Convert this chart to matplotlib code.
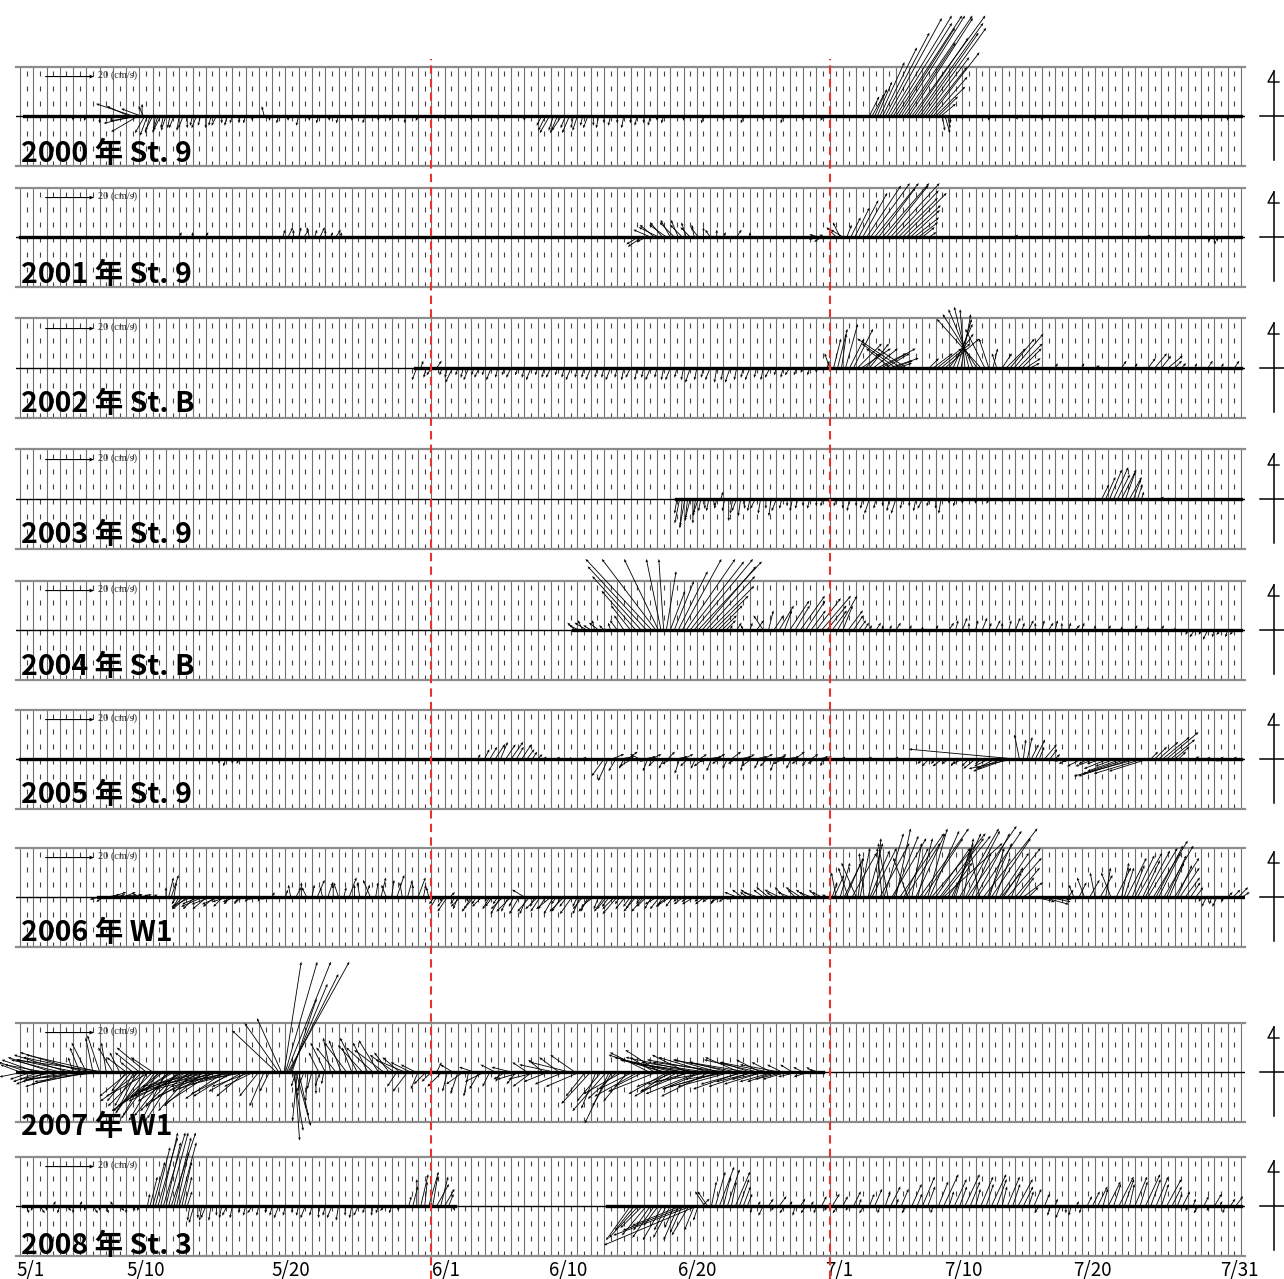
import numpy as np
import matplotlib.pyplot as plt

W, H = 1284, 1279

# ---- data: current vectors (day since 5/1 00:00, u east cm/s, v north cm/s) ----
labels = ["2000 年 St. 9", "2001 年 St. 9", "2002 年 St. B", "2003 年 St. 9", "2004 年 St. B",
          "2005 年 St. 9", "2006 年 W1", "2007 年 W1", "2008 年 St. 3"]

# periods with (small, dense) observations
spans_2000 = [(0.3, 92.0)]
spans_2001 = [(0.0, 92.0)]
spans_2002 = [(29.8, 92.0)]
spans_2003 = [(49.4, 92.0)]
spans_2004 = [(41.7, 92.0)]
spans_2005 = [(0.0, 92.0)]
spans_2006 = [(5.9, 92.2)]
spans_2007 = [(-0.3, 60.5)]
spans_2008 = [(0.25, 32.8), (44.2, 92.0)]

sticks_2000 = [
    (4.0, 0, -2), (5.0, -1, -2), (6.0, 0, -3), (7.0, -1, -2),
    (8.2, -9, 4), (8.5, -15, 5), (8.7, -13, -3), (8.9, -11, -6.5), (9.0, -12, -2), (9.1, -8, 3), (9.2, 0, 5), (9.3, -2, 4),
    (9.4, -4, -7), (9.6, -3, -8), (9.8, -2, -7), (10.0, -3, -6), (10.2, -1, -7), (10.4, -2, -6), (10.6, -3, -6),
    (10.8, -1, -5), (11.0, -2, -6), (11.3, -1, -5), (11.6, -2, -5), (12.0, -1, -6), (12.3, -2, -5), (12.6, 0, -5),
    (13.0, -1, -4), (13.3, -2, -5), (13.6, -1, -4), (14.0, 0, -5), (14.4, -1, -4), (14.8, -2, -4), (15.2, 0, -3),
    (15.6, -1, -4), (16.0, -1, -3), (16.5, 0, -3), (17.0, -1, -3), (17.5, 0, -2), (18.4, -1, 4),
    (18.8, 0, -2), (19.5, -1, -3), (20.2, 0, -2), (21.0, -1, -4), (21.8, 0, -2), (22.5, -1, -3), (23.3, 0, -2),
    (24.0, -1, -3), (25.0, 0, -2), (26.0, -1, -3), (27.0, 0, -2), (28.0, -1, -2), (29.0, 0, -3), (30.0, -1, -2),
    (32.0, 0, -1.5), (34.0, 0, -2), (36.0, 0, -1.5), (38.0, 0, -2),
    (39.3, -2, -4), (39.6, -3, -6), (39.9, -4, -7), (40.2, -2, -6), (40.5, -3, -7), (40.8, -4, -6), (41.1, -2, -5),
    (41.4, -3, -7), (41.7, -1, -5), (42.0, -2, -6), (42.4, -1, -4), (42.8, -2, -5), (43.2, 0, -4), (43.6, -1, -5),
    (44.0, 0, -3), (44.5, -1, -4), (45.0, 0, -3), (45.5, -1, -5), (46.0, 0, -3), (46.5, -1, -4), (47.0, 0, -3),
    (47.5, -1, -4), (48.0, 0, -2), (48.5, -1, -3),
    (50.0, 0, -2), (51.5, -1, -3), (53.0, 0, -2), (54.5, -1, -3), (56.0, 0, -2), (57.5, -1, -3), (59.0, 0, -2),
    (60.5, -1, -2), (62.0, 0, -1),
    (64.0, 4, 8), (64.2, 5, 9), (64.4, 5, 11), (64.6, 6, 14), (64.8, 10, 22), (65.0, 14, 28), (65.2, 18, 34),
    (65.4, 22, 40), (65.6, 25, 41), (65.8, 24, 38), (66.0, 27, 41), (66.2, 23, 36), (66.4, 26, 41), (66.6, 28, 41),
    (66.8, 20, 30), (67.0, 26, 40), (67.2, 30, 41), (67.4, 22, 32), (67.6, 27, 38), (67.8, 24, 34), (68.0, 26, 36),
    (68.2, 18, 24), (68.4, 16, 20), (68.6, 20, 26), (68.8, 14, 16), (69.0, 12, 12), (69.2, 8, 8), (69.4, 6, 5),
    (69.5, 1, -6), (69.7, 2, -7), (69.9, 1, -5), (70.1, 0, -3),
    (71, 0, -1.5), (73, 0, -2), (75, 1, -1.5), (77, 0, -2), (79, 0, -1.5), (81, 0, -2), (83, 0, -1.5),
    (85, 0, -2), (87, 0, -1.5), (89, 0, -2), (91, 0, -2),
]

sticks_2001 = [
    (12, 1, 2), (13, 0, 2), (14, 1, 2),
    (19.8, 1, 3), (20.2, 2, 4), (20.6, 0, 3), (21.0, 1, 4), (21.4, 2, 3), (21.8, -1, 4), (22.2, 1, 3), (22.6, 2, 4),
    (23.0, 0, 3), (23.4, 1, 2), (23.8, 2, 3), (24.2, 0, 2),
    (46.6, -5, -3), (46.9, -6, -4), (47.2, -4, -2), (47.5, -7, 3), (47.8, -6, 5), (48.1, -8, 4), (48.4, -5, 6),
    (48.7, -7, 5), (49.0, -4, 7), (49.3, -6, 6), (49.6, -3, 7), (49.9, -5, 5), (50.2, -2, 6), (50.5, -4, 4),
    (50.8, -1, 5), (51.1, -3, 4), (51.5, 0, 4), (52.0, -2, 3), (52.5, 0, 3), (53, 1, 2), (54, 2, 3), (55, 0, 2),
    (60.0, -3, -1), (60.2, -4, 1), (60.4, -3, -2), (60.6, -2, 1),
    (61.5, -4, 4), (61.8, -3, 6), (62.0, -5, 3), (62.3, 2, 5), (62.6, 4, 8), (62.9, 6, 12), (63.2, 8, 15),
    (63.5, 10, 18), (63.8, 14, 21), (64.1, 16, 22), (64.4, 18, 22), (64.7, 15, 20), (65.0, 19, 22), (65.3, 17, 21),
    (65.6, 20, 22), (65.9, 18, 19), (66.2, 16, 16), (66.5, 18, 18), (66.8, 14, 13), (67.1, 12, 11), (67.4, 10, 8),
    (67.7, 8, 6), (68.0, 5, 4), (68.5, 3, 2),
    (70, 0, -1), (75, 1, 1), (80, 0, -1), (85, 1, 1), (89.6, 0, -2), (89.9, 1, -3), (90.2, 0, -2),
]

sticks_2002 = [
    (29.9, -2, -5), (30.2, 1, 3), (30.6, -1, -4), (31.0, -2, -3), (31.4, 2, 3), (31.8, -1, -3), (32.2, -1, -4),
    (32.6, -3, -6), (33.0, -1, -3), (33.4, -1, -4), (33.8, -2, -5), (34.2, -1, -3), (34.6, -2, -4), (35.0, -1, -3),
    (35.5, -2, -5), (36.0, -1, -4), (36.5, -1, -3), (37.0, -2, -4), (37.5, -1, -3), (38.0, -1, -4), (38.5, -2, -5),
    (39.0, -1, -3), (39.5, -1, -4), (40.0, -2, -4), (40.5, -1, -3), (41.0, -1, -4), (41.5, -2, -5), (42.0, -1, -4),
    (42.5, -1, -4), (43.0, -2, -5), (43.5, -1, -4), (44.0, -1, -4), (44.5, -2, -5), (45.0, -1, -4), (45.5, -1, -5),
    (46.0, -2, -4), (46.5, -1, -5), (47.0, -1, -4), (47.5, -2, -5), (48.0, -1, -4), (48.5, -1, -5), (49.0, -2, -5),
    (49.5, -1, -4), (50.0, -1, -5), (50.5, -2, -6), (51.0, -1, -5), (51.5, -1, -4), (52.0, -2, -5), (52.5, -1, -6),
    (53.0, -1, -5), (53.5, -2, -6), (54.0, -1, -5), (54.5, -1, -4), (55.0, -2, -5), (55.5, -1, -4), (56.0, -1, -5),
    (56.5, -2, -4), (57.0, -1, -3), (57.5, -1, -4), (58.0, -2, -3), (58.5, -1, -3), (59.0, -1, -2), (59.5, -1, -3),
    (60.0, 0, -2), (60.5, 0, -1),
    (60.8, 1, 3), (61.0, -2, 6), (61.3, 3, 12), (61.6, 4, 16), (61.9, 2, 14), (62.2, 5, 18), (62.5, 6, 12),
    (62.8, 8, 16), (63.1, 10, 10), (63.4, 12, 8), (63.7, 6, 6), (64.0, 8, 10), (64.3, 10, 8), (64.6, 12, 6),
    (64.9, 14, 8), (65.2, 10, 6), (65.5, 12, 4), (65.6, -10, 8), (65.8, 8, 3), (66.0, -14, 10), (66.1, 6, 2),
    (66.4, -18, 12), (66.8, -12, 8),
    (68.5, 4, 4), (68.8, 8, 6), (69.1, 10, 8), (69.4, 12, 10), (69.7, 14, 12), (70.0, 10, 14), (70.3, 8, 18),
    (70.6, 6, 20), (70.9, 4, 22), (71.2, -2, 24), (71.5, -6, 25), (71.8, -10, 24), (72.1, -14, 22), (72.4, -18, 20),
    (72.7, -8, 16), (73.0, -4, 12), (73.3, 2, 8), (73.6, -2, 6), (74.0, 4, 6), (74.3, 8, 8), (74.6, 10, 12),
    (74.9, 12, 14), (75.2, 10, 10), (75.5, 8, 8), (75.8, 6, 4), (76.1, 4, 2),
    (77, 0, -1), (78, 1, 2), (79, 0, -1), (80, 1, 2), (81, 2, 1), (82, 0, -1), (83, 2, 3), (84, 1, 2),
    (85.0, 3, 4), (85.5, 5, 6), (86.0, 4, 5), (86.5, 6, 5), (87.0, 3, 3), (87.5, 2, 2), (88.5, 1, 2),
    (89.5, 2, 3), (90.5, 1, 2), (91.5, 2, 3),
]

sticks_2003 = [
    (49.5, -1, -6), (49.7, -2, -10), (49.9, -1, -12), (50.1, -2, -11), (50.3, -1, -9), (50.5, -2, -8), (50.7, 0, -10),
    (50.9, -1, -7), (51.1, -2, -6), (51.3, -1, -5), (51.6, 0, -4), (51.9, -1, -5), (52.2, 1, -3), (52.5, -1, -4),
    (52.8, 1, 3), (53.1, -1, -5), (53.4, 0, -9), (53.7, -1, -6), (54.0, -2, -5), (54.3, -1, -7), (54.6, 0, -4),
    (55.0, -1, -5), (55.4, -2, -4), (55.8, -1, -6), (56.2, 0, -4), (56.6, -1, -7), (57.0, -2, -5), (57.4, -1, -4),
    (57.8, 0, -3), (58.2, -1, -5), (58.6, -1, -4), (59.0, 0, -3), (59.5, -1, -4), (60.0, 0, -3), (60.5, -1, -3),
    (61.0, 0, -2), (61.5, -1, -3), (62.0, 0, -4), (62.5, -1, -5), (63.0, 0, -3), (63.5, -1, -4), (64.0, -2, -6),
    (64.5, -1, -4), (65.0, 0, -3), (65.5, -1, -5), (66.0, -2, -6), (66.5, -1, -4), (67.0, 0, -3), (67.5, -1, -5),
    (68.0, -2, -4), (68.5, -1, -3), (69.0, 0, -4), (69.4, -1, -6), (70.0, 0, -2), (70.5, -1, -3), (71.0, 0, -2),
    (72, 0, -2), (73, -1, -2), (74, 0, -1.5), (75, 0, -1), (77, 0, -1), (79, 0, -1), (81, 0, -1),
    (81.5, 3, 6), (81.8, 4, 9), (82.1, 5, 12), (82.4, 6, 13), (82.7, 5, 10), (83.0, 6, 12), (83.3, 4, 11),
    (83.6, 5, 9), (83.9, 3, 8), (84.2, 2, 6), (84.5, 1, 3),
    (85, 0, -1), (86, 1, 1), (87, 0, -1), (88, 1, -1), (89, 0, -1), (90, 1, -1), (91, 0, -1),
]

sticks_2004 = [
    (41.8, -3, 3), (42.1, -4, 2), (42.4, -2, 4), (42.7, -5, 3), (43.0, -3, 2), (43.3, -1, 4), (43.6, -4, 3),
    (44.0, -2, 2), (44.5, -1, 3), (45.0, -3, 4),
    (45.5, -4, 6), (46.0, -8, 10), (46.4, -14, 16), (46.8, -20, 22), (47.2, -24, 26), (47.6, -27, 29),
    (47.9, -22, 29), (48.1, -14, 29), (48.3, -6, 29), (48.5, -2, 29), (48.7, 4, 24), (49.0, 6, 16), (49.3, 8, 20),
    (49.6, 12, 24), (49.9, 16, 29), (50.2, 20, 29), (50.5, 22, 28), (50.8, 24, 29), (51.1, 26, 28), (51.4, 22, 26),
    (51.7, 20, 22), (52.0, 18, 18), (52.3, 14, 14), (52.6, 10, 10), (52.9, 6, 6), (53.2, 4, 4),
    (53.5, 1, 2), (54.0, 2, 3), (54.5, -1, 2), (55.0, 1, 3),
    (55.5, 3, 4), (56.0, -4, 6), (56.4, 2, 8), (56.8, 4, 6), (57.2, 6, 10), (57.6, 3, 8), (58.0, 8, 12),
    (58.4, 6, 10), (58.8, 10, 14), (59.2, 8, 12), (59.6, 6, 8), (60.0, 10, 13), (60.4, 12, 14), (60.8, 8, 10),
    (61.2, 6, 8), (61.6, 8, 14), (62.0, 4, 10), (62.4, 6, 8), (62.8, 4, 6), (63.2, 3, 4), (63.6, 2, 3),
    (64.0, 1, 2), (64.5, 2, 3), (65.0, 0, 2), (65.5, 1, 2), (66.0, 2, 3), (67.0, 1, 2), (68.0, 0, 1.5),
    (69.0, 1, 2), (70.0, 2, 3), (70.5, 1, 4), (71.0, 2, 5), (71.5, 0, 3), (72.0, 1, 4), (72.5, 2, 5),
    (73.0, 1, 3), (73.5, 2, 4), (74.0, 0, 3), (74.5, 1, 4), (75.0, 2, 5), (75.5, 1, 3), (76.0, 2, 4),
    (76.5, 0, 3), (77.0, 1, 4), (77.5, 2, 3), (78.0, 1, 4), (78.5, 0, 3), (79.0, 1, 3), (79.5, 2, 2),
    (80.0, 1, 3), (81, 0, 2), (82, 1, 2), (83, 0, 1.5), (84, 1, 2), (85, 0, 1.5), (86, 1, 2), (87, 0, 1),
    (88.0, -1, -2), (88.5, -2, -3), (89.0, -1, -2), (89.5, -2, -4), (90.0, -1, -3), (90.5, -2, -2),
    (91.0, -1, -3), (91.5, -2, -2),
]

sticks_2005 = [
    (15.0, 0, -2), (15.5, -1, -3), (16.0, 0, -2), (16.5, -1, -2),
    (34.5, 1, 2), (35.0, 2, 4), (35.4, 3, 5), (35.8, 4, 6), (36.2, 3, 7), (36.6, 4, 6), (37.0, 5, 7),
    (37.4, 3, 5), (37.8, 4, 6), (38.2, 3, 4), (38.6, 2, 3), (39.0, 2, 2), (39.5, 1, 1),
    (40.5, 1, 1), (41.5, 0, 1), (42.5, 1, 1),
    (44.0, -5, -7), (44.3, -4, -9), (44.6, 5, 2), (44.9, -3, -5), (45.2, 6, 1), (45.5, -2, -4), (45.8, 4, 3),
    (46.1, -5, -3), (46.4, 3, -1), (46.7, -4, 2), (47.0, 5, 1), (47.3, -2, -5), (47.6, 4, 2), (47.9, -3, -3),
    (48.2, 6, 0), (48.5, -2, -4), (48.8, 3, 3), (49.1, -4, -2), (49.4, 5, 1), (49.7, -2, -6), (50.0, 4, 2),
    (50.3, -3, -3), (50.6, 5, -1), (50.9, -2, -4), (51.2, 3, 2), (51.5, -4, -3), (51.8, 6, 1), (52.1, -2, -5),
    (52.4, 4, 2), (52.7, -3, -2), (53.0, 5, 0), (53.3, -2, -4), (53.6, 4, 3), (53.9, -3, -2), (54.2, 5, 1),
    (54.5, -1, -5), (54.8, 3, 2), (55.1, -4, -3), (55.4, 5, 1), (55.7, -2, -4), (56.0, 4, 2), (56.3, -3, -3),
    (56.6, 6, 1), (56.9, -2, -5), (57.2, 3, 2), (57.5, -4, -2), (57.8, 5, 1), (58.1, -2, -4), (58.4, 4, 3),
    (58.7, -3, -2), (59.0, 5, 0), (59.3, -2, -3), (59.6, 3, 2), (59.9, -3, -2), (60.2, 4, 1), (60.5, -1, -3),
    (60.8, 2, 1),
    (62, 1, 1), (63, 0, -1), (64, 1, 1), (65, 0, -1), (66, 1, 1), (67, 0, -1),
    (68.0, -2, -2), (68.5, -3, -3), (69.0, -2, -2), (69.5, -4, -3), (70.0, -3, -2), (70.5, -2, -3), (71.0, -4, -2),
    (71.5, -3, -3), (72.0, -5, -4), (72.5, -3, -2), (73.0, -6, -3), (73.5, -8, -4), (74.0, -10, -4),
    (74.4, -14, -5), (74.8, -18, -4), (75.0, -43.5, 4),
    (75.3, -2, 10), (75.6, 1, 8), (75.9, 2, 9), (76.2, 3, 6), (76.5, 4, 8), (76.8, 2, 5), (77.2, 5, 6),
    (77.6, 3, 4), (78.0, 2, 2),
    (78.5, -3, -1), (79.0, -4, -2), (79.5, -5, -1), (80.0, -6, -3), (80.5, -4, -2), (81.0, -8, -3),
    (81.5, -6, -2), (82.0, -10, -4), (82.5, -8, -3), (83.0, -14, -5), (83.4, -18, -6), (83.8, -22, -7),
    (84.2, -26, -7), (84.6, -20, -6), (85.0, -16, -5),
    (85.2, 3, 3), (85.5, 5, 5), (85.8, 8, 7), (86.1, 11, 9), (86.4, 13, 11), (86.7, 10, 8), (87.0, 6, 5),
    (87.3, 3, 3),
    (88, 1, -1), (88.5, 2, 1), (89, -1, -1), (89.5, 1, 1), (90, 2, -1), (90.5, 1, 1), (91, 0, -1), (91.5, 1, 1),
]

sticks_2006 = [
    (6.0, -4, -1), (6.3, -3, -2), (6.6, 5, 1), (6.9, 6, 2), (7.2, 4, 1), (7.5, 7, 1), (7.8, 5, 2), (8.1, 6, 1),
    (8.4, 4, 0), (8.7, 3, 1), (9.0, 5, 1), (9.3, 2, 1), (9.6, 3, 0), (10.0, 2, 1), (10.5, 1, 0),
    (11.0, 0, 4), (11.2, 2, 8), (11.4, 3, 9), (11.6, 1, 6), (11.8, -2, -3), (12.0, -3, -5), (12.3, -4, -4),
    (12.6, -6, -5), (12.9, -8, -4), (13.2, -5, -5), (13.5, -7, -3), (13.8, -9, -4), (14.1, -6, -5),
    (14.4, -8, -3), (14.7, -5, -4), (15.0, -7, -3), (15.3, -4, -4), (15.6, -6, -2), (15.9, -3, -3),
    (16.2, -5, -2), (16.5, -2, -3), (16.9, -4, -2), (17.3, -2, -2), (17.7, -3, -1), (18.1, -1, -2),
    (18.5, -2, -1), (19.0, 1, 2), (19.5, -1, -1),
    (20.0, 1, 3), (20.4, -1, 5), (20.8, 2, 4), (21.2, 0, 6), (21.6, -2, 4), (22.0, 1, 5), (22.4, 3, 7),
    (22.8, -1, 4), (23.2, 2, 6), (23.6, 0, 5), (24.0, -2, 6), (24.4, 1, 4), (24.8, 3, 8), (25.2, 0, 5),
    (25.6, -1, 6), (26.0, 2, 5), (26.4, -3, 7), (26.8, 1, 6), (27.2, 2, 8), (27.6, -2, 5), (28.0, 1, 7),
    (28.4, 3, 9), (28.8, -1, 6), (29.2, 2, 7), (29.6, 0, 5), (30.0, 3, 8), (30.4, 1, 5), (30.8, -1, 4),
    (31.2, -2, -3), (31.4, -3, -5), (31.6, 1, -2), (32.0, -3, -4), (32.2, -4, -6), (32.4, 2, 2), (32.8, -2, -3),
    (33.0, -2, -5), (33.2, -4, -4), (33.6, 1, -2), (34.0, -3, -5), (34.2, -5, -6), (34.4, -2, -3), (34.8, -4, -4),
    (35.2, -1, -2), (35.4, -3, -5), (35.6, -3, -4), (36.0, -2, -3), (36.2, -4, -7), (36.4, -5, -5), (36.8, -3, -6),
    (37.0, -6, -6), (37.2, -2, -4), (37.6, -4, -7), (38.0, -5, 3), (38.2, -3, -7), (38.4, -5, -6),
    (38.8, -2, -4), (39.0, -5, -5), (39.2, -4, -6), (39.6, -3, -5), (40.0, -6, -5), (40.2, -4, -7), (40.4, -2, -3),
    (40.8, -4, -6), (41.0, -6, -6), (41.2, -3, -4), (41.6, -5, -7), (42.0, -2, -4), (42.2, -3, -7), (42.4, -4, -5),
    (42.8, -3, -6), (43.0, -5, -6), (43.2, -5, -4), (43.6, -2, -5), (44.0, -4, -6), (44.2, -4, -5), (44.4, -3, -4),
    (44.8, -5, -5), (45.0, -6, -7), (45.2, -2, -3), (45.6, -4, -5), (46.0, -3, -4), (46.2, -3, -5), (46.4, -5, -6),
    (46.8, -2, -3), (47.0, -5, -6), (47.2, -4, -4), (47.6, -3, -5), (48.0, -5, -3), (48.2, -4, -5),
    (48.4, -2, -4), (48.8, -4, -3), (49.0, -6, -4), (49.2, -3, -4), (49.6, -2, -2), (50.0, -4, -3), (50.4, -3, -2),
    (50.8, -5, -3), (51.2, -2, -2), (51.6, -4, -3), (52.0, -3, -2), (52.4, -2, -3), (52.8, -4, -2),
    (53.2, -3, -2), (53.6, -2, -1), (54.0, -5, 2), (54.4, -4, 3), (54.8, -3, 2), (55.2, -5, 3), (55.6, -6, 2),
    (56.0, -4, 3), (56.4, -5, 4), (56.8, -3, 2), (57.2, -6, 3), (57.6, -4, 4), (58.0, -5, 2), (58.4, -3, 3),
    (58.8, -6, 4), (59.2, -4, 3), (59.6, -5, 2), (60.0, -3, 3), (60.4, -4, 2), (60.8, -2, 1),
    (61.2, 2, 6), (61.35, 4, 9), (61.5, -2, 10), (61.8, 4, 14), (62.1, 8, 16), (62.25, 6, 14), (62.4, -4, 12),
    (62.7, 10, 18), (63.0, -6, 14), (63.15, 2, 16), (63.3, 4, 20), (63.6, -2, 18), (63.9, 6, 22), (64.05, 8, 19),
    (64.2, 10, 20), (64.5, 2, 24), (64.8, 12, 22), (64.95, -2, 20), (65.1, 8, 26), (65.4, -4, 22),
    (65.7, 14, 24), (65.85, 10, 25), (66.0, 6, 28), (66.3, 18, 26), (66.6, 10, 20), (66.75, 14, 22),
    (66.9, -6, 16), (67.2, 4, 22), (67.5, 12, 26), (67.65, 6, 24), (67.8, 20, 28), (68.1, 16, 24),
    (68.4, 8, 28), (68.55, 12, 27), (68.7, 22, 26), (69.0, 14, 20), (69.3, 18, 24), (69.45, 20, 25),
    (69.6, 24, 22), (69.9, 10, 14), (70.2, 12, 26), (70.35, 8, 22), (70.5, 6, 20), (70.8, 16, 28),
    (71.1, 4, 24), (71.25, 14, 27), (71.4, 20, 29), (71.7, 8, 18), (72.0, 14, 26), (72.15, 18, 27),
    (72.3, -4, 20), (72.6, 22, 28), (72.9, 10, 22), (73.05, 6, 20), (73.2, 16, 24), (73.5, 6, 16),
    (73.8, 12, 18), (73.95, 16, 20), (74.1, 8, 12), (74.4, 14, 16), (74.7, 4, 10), (75.0, 10, 12),
    (75.3, 6, 8), (75.6, 8, 6), (76.0, 4, 4),
    (76.5, 8, -2), (77.0, 11, -3), (77.5, 9, -2), (78.0, 6, -1), (78.5, 4, -1),
    (79.0, 2, 3), (79.4, -2, 5), (79.8, 3, 6), (80.2, -3, 8), (80.6, 4, 7), (81.0, -2, 10), (81.4, 5, 9),
    (81.8, 2, 12), (82.2, -4, 10), (82.6, 6, 12), (83.0, 3, 14), (83.2, 4, 12), (83.4, 8, 16), (83.8, 5, 13),
    (84.0, 8, 17), (84.2, 10, 18), (84.6, 7, 15), (84.8, 10, 19), (85.0, 12, 20), (85.4, 14, 23),
    (85.6, 11, 21), (85.8, 9, 18), (86.2, 12, 21), (86.4, 8, 17), (86.6, 6, 14), (87.0, 10, 16),
    (87.2, 6, 13), (87.4, 8, 12), (87.8, 6, 8), (88.2, 4, 6), (88.6, 3, 4),
    (89.0, -1, -2), (89.4, -2, -4), (89.8, -1, -3), (90.2, -2, -4), (90.6, 0, -2), (91.0, 2, 2), (91.4, 3, 3),
    (91.8, 4, 4), (92.1, 3, 2),
]

sticks_2007 = [
    (0.0, -8, 3), (0.3, -10, -2), (0.6, -12, 4), (0.9, -9, -3), (1.2, -14, 5), (1.5, -11, -4), (1.8, -16, 3),
    (2.1, -13, -5), (2.4, -18, 6), (2.7, -15, -3), (3.0, -20, 5), (3.3, -17, -4), (3.6, -22, 7), (3.9, -19, -6),
    (4.2, -24, 5), (4.5, -21, -3), (4.8, -26, 8), (5.1, -23, -5), (5.4, -28, 6), (5.7, -25, -4), (6.0, -30, 7),
    (6.3, -36, 5), (6.6, -34, -3),
    (4.0, -2, 6), (4.5, -4, 10), (5.0, -6, 12), (5.5, -3, 14), (6.0, -5, 15), (6.5, -2, 12), (7.0, -6, 10),
    (7.5, -4, 8), (8.0, -8, 6), (8.5, -5, 4), (9.0, -10, 8), (9.5, -12, 10), (10.0, -9, 6),
    (8.0, -6, -8), (8.2, -12, -10), (8.4, -10, -12), (8.6, -8, -14), (8.8, -8, -16), (9.0, -16, -12),
    (9.2, -14, -14), (9.4, -12, -17), (9.6, -10, -18), (9.8, -18, -10), (10.0, -16, -16), (10.2, -14, -19),
    (10.4, -12, -20), (10.6, -20, -16), (10.8, -18, -14), (11.0, -10, -20), (11.2, -14, -18), (11.4, -22, -14),
    (11.6, -20, -12), (11.8, -12, -19), (12.0, -16, -16), (12.2, -18, -12), (12.4, -22, -10), (12.6, -24, -12),
    (12.8, -18, -14), (13.0, -14, -16), (13.2, -24, -8), (13.4, -26, -10), (13.6, -20, -12), (13.8, -16, -14),
    (14.0, -26, -6), (14.2, -28, -8), (14.4, -22, -10), (14.6, -20, -13), (14.8, -18, -8), (15.0, -26, -7),
    (15.2, -24, -5), (15.4, -16, -11), (15.6, -20, -7), (15.8, -24, -6), (16.0, -16, -10), (16.2, -18, -9),
    (16.4, -22, -4), (16.6, -20, -5), (16.8, -14, -8), (17.0, -12, -10), (17.2, -18, -3), (17.4, -16, -6),
    (17.6, -12, -6), (18.0, -8, -10), (18.4, -6, -14), (18.8, -4, -8),
    (19.3, -18, 17), (19.5, -14, 20), (19.7, -10, 22), (19.9, 7, 45), (20.0, 13, 45), (20.1, 18, 45),
    (20.2, 25, 45), (20.3, 20, 40), (20.4, 15, 36), (20.5, 10, 30), (20.6, 4, -24), (20.7, 2, -28),
    (20.8, 6, -22), (20.9, -2, -20), (21.0, 4, -18),
    (20.8, -2, -6), (21.1, -1, -10), (21.4, -3, -8), (21.7, -1, -12), (22.0, -2, -7), (22.3, 0, -9),
    (22.6, -2, -6), (22.9, -1, -5),
    (22.5, -4, 8), (23.0, -6, 12), (23.4, -3, 14), (23.8, -8, 10), (24.2, -5, 13), (24.6, -9, 12), (25.0, -4, 10),
    (25.4, -7, 14), (25.8, -10, 11), (26.2, -6, 12), (26.6, -11, 10), (27.0, -8, 13), (27.4, -12, 9),
    (27.8, -6, 8), (28.2, -10, 7), (28.6, -7, 6), (29.0, -12, 5), (29.4, -8, 4), (29.8, -6, 3),
    (28.4, -4, -6), (29.2, -6, -8), (30.0, -3, -7), (30.6, -5, -5),
    (31.0, -4, -4), (31.4, 2, 4), (31.8, -6, -6), (32.2, -2, -8), (32.6, -5, 3), (33.0, -3, -9), (33.4, -7, -5),
    (33.8, -2, -10), (34.2, -6, 2), (34.6, -4, -7), (35.0, -8, -4), (35.4, -3, -6), (35.8, -6, 3), (36.2, -2, -4),
    (36.6, -5, -3), (37.0, -8, 2), (37.4, -4, -5), (37.8, -10, -3), (38.2, -6, 4), (38.6, -8, -6), (39.0, -12, -3),
    (39.4, -6, 5), (39.8, -10, -4), (40.2, -14, 3), (40.6, -8, 6), (41.0, -12, -5), (41.4, -16, 4), (41.8, -10, 7),
    (42.2, -14, -6), (42.6, -8, -10), (43.0, -12, -13), (43.4, -6, -15), (43.8, -10, -12), (44.2, -14, -16),
    (44.4, -10, -21), (44.6, -8, -14), (45.0, -12, -11), (45.4, -16, -9), (45.8, -10, -12), (46.2, -14, -7),
    (46.6, -18, -10), (47.0, -12, -6), (47.4, -16, 8), (47.8, -10, 6), (48.0, -20, -8), (48.2, -14, 9),
    (48.4, -22, 7), (48.6, -18, 5), (48.8, -16, -9), (49.0, -12, -8), (49.2, -24, 6), (49.4, -16, -6),
    (49.6, -18, -10), (49.8, -20, 4), (50.0, -26, 5), (50.2, -14, 7), (50.4, -20, -8), (50.6, -18, -5),
    (50.8, -28, 6), (51.0, -22, 3), (51.2, -22, -9), (51.4, -16, -7), (51.6, -26, 4), (51.8, -20, 6),
    (52.0, -20, -10), (52.2, -24, -4), (52.4, -28, 5), (52.6, -18, 5), (52.8, -24, -7), (53.0, -22, -6),
    (53.2, -30, 4), (53.4, -16, 4), (53.6, -22, -6), (53.8, -20, -3), (54.0, -26, 5), (54.2, -14, 6),
    (54.4, -20, -7), (54.6, -18, -5), (54.8, -24, 4), (55.0, -12, 4), (55.2, -18, -6), (55.4, -16, -4),
    (55.6, -22, 5), (55.8, -10, 5), (56.0, -16, -5), (56.2, -14, -3), (56.4, -20, 4), (56.6, -8, 4),
    (56.8, -14, -4), (57.0, -12, -4), (57.2, -16, 3), (57.4, -6, 3), (57.6, -12, -3), (57.8, -10, -3),
    (58.2, -5, 3), (58.6, -8, -2), (59.0, -4, 2), (59.4, -6, -2), (59.8, -3, 2), (60.2, -4, 1),
]

sticks_2008 = [
    (0.5, 1, -3), (1.0, -1, -2), (1.5, 2, -3), (2.0, 0, -2), (2.5, 1, 2), (3.0, -1, -3), (3.5, 2, -2), (4.0, 0, -3),
    (4.5, 1, 2), (5.0, -1, -2), (5.5, 2, -3), (6.0, 0, -2), (6.5, 1, -3), (7.0, -1, 2), (7.5, 2, -2), (8.0, 0, -3),
    (8.5, 1, -2), (9.0, -1, -2),
    (9.6, 1, 5), (9.8, 3, 12), (10.0, 5, 18), (10.2, 6, 24), (10.4, 8, 28), (10.6, 7, 30), (10.8, 9, 30),
    (11.0, 6, 26), (11.2, 8, 30), (11.4, 10, 30), (11.6, 7, 28), (11.8, 5, 22), (12.0, 7, 26), (12.2, 4, 18),
    (12.4, 3, 12), (12.6, 2, 6),
    (12.8, -1, -6), (13.1, -2, -7), (13.4, 0, -5), (13.7, -1, -6), (14.0, -2, -5), (14.4, -1, -6), (14.8, 0, -4),
    (15.2, -1, -5), (15.6, -2, -4), (16.0, -1, -5), (16.5, 0, -3), (17.0, -1, -4), (17.5, -2, -3), (18.0, -1, -4),
    (18.5, 0, -3), (19.0, -1, -4), (19.5, -2, -5), (20.0, -1, -4), (20.5, 0, -3), (21.0, -1, -4), (21.5, -2, -5),
    (22.0, -1, -4), (22.5, 0, -5), (23.0, -1, -4), (23.5, -2, -5), (24.0, -1, -6), (24.5, 0, -4), (25.0, -1, -5),
    (25.5, -2, -4), (26.0, -1, -3), (26.5, 0, -4), (27.0, -1, -3), (27.5, -2, -2), (28.0, -1, -3), (28.5, 0, -2),
    (29.3, 1, 4), (29.6, 2, 8), (29.9, 0, 11), (30.2, 3, 13), (30.5, 1, 10), (30.8, 4, 14), (31.1, 2, 12),
    (31.4, 5, 9), (31.7, 3, 12), (32.0, 4, 7), (32.3, 2, 5), (32.6, 1, -2),
    (46.0, -10, -14), (46.3, -8, -10), (46.6, -12, -13), (46.9, -9, -9), (47.2, -10, -12), (47.5, -7, -10),
    (47.8, -9, -13), (48.1, -6, -8), (48.4, -8, -14), (48.7, -5, -10), (49.0, -7, -13), (49.3, -4, -9),
    (49.6, -6, -14), (49.8, -20, -8), (49.9, -5, -11), (50.2, -26, -10), (50.4, -7, -12), (50.6, -32, -12),
    (50.8, -4, -10), (51.0, -38, -16), (51.1, -2, -6), (51.4, 3, 3), (51.6, -4, 6),
    (51.8, -4, 6), (52.1, 2, 10), (52.4, 4, 14), (52.7, 6, 16), (53.0, 3, 12), (53.3, 5, 15), (53.6, 2, 10),
    (53.9, 6, 14), (54.2, 4, 11), (54.5, 3, 8), (54.8, 2, 5),
    (55.2, -1, -3), (55.6, 1, 2), (56.0, -2, -4), (56.4, 2, 3), (56.8, -1, -2), (57.2, 3, 4), (57.6, -2, -3),
    (58.0, 1, 2), (58.4, -1, -4), (58.8, 2, 3), (59.2, -2, -3), (59.6, 1, 2), (60.0, -1, -3), (60.4, 2, 4),
    (60.8, -1, -2), (61.2, 3, 5), (61.6, -2, -3), (62.0, 2, 4), (62.4, -1, -2), (62.8, 3, 6), (63.2, 1, 3),
    (63.6, -2, -3), (64.0, 2, 5), (64.4, 3, 7), (64.8, -1, -3), (65.2, 2, 6), (65.6, 4, 8), (66.0, 1, 3),
    (66.4, 3, 7), (66.8, -2, -3), (67.2, 4, 9), (67.6, 2, 5), (68.0, 5, 12), (68.4, 3, 8), (68.8, -1, -3),
    (69.2, 4, 10), (69.6, 6, 13), (70.0, 2, 6), (70.4, 5, 11), (70.8, 3, 8), (71.2, 6, 13), (71.6, 4, 10),
    (72.0, 2, 7), (72.4, 5, 12), (72.8, 3, 9), (73.2, 6, 13), (73.6, 4, 11), (74.0, 2, 8), (74.4, 5, 12),
    (74.8, 3, 9), (75.2, 6, 11), (75.6, 4, 8), (76.0, 2, 6), (76.4, 3, 7), (76.8, -2, -3), (77.2, 2, 5),
    (77.6, -1, -4), (78.0, 1, 3), (78.4, -2, -5), (78.8, 0, -3), (79.2, -1, -4), (79.6, 1, 2), (80.0, -1, -3),
    (80.4, 2, 4), (80.8, 3, 6), (81.2, 4, 8), (81.6, 2, 7), (82.0, 5, 10), (82.4, 3, 9), (82.8, 6, 12),
    (83.2, 4, 11), (83.6, 2, 9), (84.0, 5, 12), (84.4, 3, 10), (84.8, 6, 13), (85.2, 4, 11), (85.6, 5, 12),
    (86.0, 3, 9), (86.4, 6, 11), (86.8, 4, 8), (87.2, 2, 5), (87.6, 3, 6), (88.0, -1, -2), (88.4, 1, 3),
    (88.8, -2, -3), (89.2, 2, 4), (89.6, -1, -2), (90.0, 3, 5), (90.4, 1, 2), (90.8, -1, -3), (91.2, 2, 3),
    (91.6, 3, 4),
]

all_spans = [spans_2000, spans_2001, spans_2002, spans_2003, spans_2004,
             spans_2005, spans_2006, spans_2007, spans_2008]
all_sticks = [sticks_2000, sticks_2001, sticks_2002, sticks_2003, sticks_2004,
              sticks_2005, sticks_2006, sticks_2007, sticks_2008]

date_labels = ["5/1", "5/10", "5/20", "6/1", "6/10", "6/20", "7/1", "7/10", "7/20", "7/31"]
marker_days = [31, 61]   # 6/1 and 7/1

# ---- layout (pixels) ----
centers = [116, 237, 368, 499, 630, 759, 897, 1072, 1206]
label_drop = [46, 46, 44, 44, 45, 44, 44, 63, 48]
tick_pos = [0.8, 9.5, 20.4, 32.1, 41.3, 51.0, 61.7, 71.1, 80.8, 91.9]
X0, X1 = 16, 1245
D0, D1 = -0.3, 92.3
HALF = 49.5
PXCM = 2.45
YL = HALF / PXCM

label_font = ['Noto Sans CJK JP', 'DejaVu Sans']

fig = plt.figure(figsize=(W / 100, H / 100), dpi=100)

for i, c in enumerate(centers):
    ax = fig.add_axes([X0 / W, 1 - (c + HALF) / H, (X1 - X0) / W, 2 * HALF / H])
    ax.set_xlim(D0, D1)
    ax.set_ylim(-YL, YL)
    ax.set_axis_off()

    # grid: solid line every day, dashed at noon
    ax.vlines(np.arange(0, 93), -YL, YL, colors='#707070', lw=0.8, zorder=1)
    ax.vlines(np.arange(0.5, 92), -YL, YL, colors='#404040', lw=0.8,
              linestyles=(0, (4.5, 9)), zorder=1)
    for yy in (-YL, YL):
        ax.plot([D0, D1], [yy, yy], color='#8c8c8c', lw=1.6, clip_on=False, zorder=2)
    ax.plot([D0, D1], [0, 0], color='k', lw=1.0, zorder=2)
    for s0, s1 in all_spans[i]:
        ax.plot([s0, s1], [0, 0], color='k', lw=2.4, zorder=3)

    arr = np.array(all_sticks[i], dtype=float)
    q = ax.quiver(arr[:, 0], np.zeros(len(arr)), arr[:, 1], arr[:, 2],
                  angles='uv', scale_units='y', scale=1, units='dots', width=0.85,
                  headwidth=3.2, headlength=3.8, headaxislength=3.4, minlength=0,
                  pivot='tail', color='k', zorder=4)
    q.set_clip_on(False)

    # 20 cm/s scale arrow
    ax.quiver([1.9], [16.1], [20], [0], angles='uv', scale_units='y', scale=1,
              units='dots', width=1.1, headwidth=3.5, headlength=4.5, headaxislength=4,
              pivot='tail', color='k', zorder=4)
    ax.text(5.9, 16.8, "20 (cm/s)", fontsize=7.5, family='Liberation Serif',
            va='center', ha='left', color='#333333', zorder=5)

    ax.text(0.1, -label_drop[i] / PXCM, labels[i], fontsize=20.5, fontweight='bold',
            family=label_font, ha='left', va='baseline', zorder=6, clip_on=False)

    if i == len(centers) - 1:
        for p, lab in zip(tick_pos, date_labels):
            ax.text(p, -(HALF + 15) / PXCM, lab, fontsize=13.5, family='Noto Sans CJK JP',
                    ha='center', va='center', clip_on=False)

# red dashed date markers over everything
axr = fig.add_axes([X0 / W, 0, (X1 - X0) / W, (H - 59) / H])
axr.set_xlim(D0, D1)
axr.set_ylim(0, 1)
axr.set_axis_off()
for d in marker_days:
    axr.axvline(d, color='#e8322d', lw=1.5, dashes=(4, 2.5))

# north arrows on the right
axo = fig.add_axes([0, 0, 1, 1])
axo.set_xlim(0, W)
axo.set_ylim(H, 0)
axo.set_axis_off()
for c in centers:
    axo.plot([1274, 1274], [c - 45, c + 44], color='k', lw=1.1)
    axo.plot([1260, 1284], [c, c], color='k', lw=1.1)
    axo.plot([1274, 1268, 1279], [c - 45, c - 34, c - 34], color='k', lw=1.0)

fig.savefig("out.png", dpi=100)
